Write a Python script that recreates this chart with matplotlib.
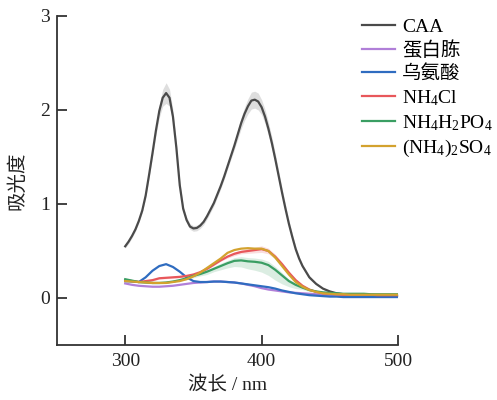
import numpy as np
import matplotlib
matplotlib.use("Agg")
import matplotlib.pyplot as plt

plt.rcParams['font.family'] = ['Liberation Serif', 'Noto Sans CJK SC']
plt.rcParams['mathtext.fontset'] = 'custom'
plt.rcParams['mathtext.rm'] = 'Liberation Serif'
plt.rcParams['mathtext.it'] = 'Liberation Serif:italic'

# wavelength grid (nm)
wl = list(range(300, 505, 5))

# CAA read at a finer step because its peaks are sharp
wl_caa = [300, 302.5, 305, 307.5, 310, 312.5, 315, 317.5, 320, 322.5, 325, 327.5, 330,
          332.5, 335, 337.5, 340, 342.5, 345, 347.5, 350, 352.5, 355, 357.5, 360, 362.5,
          365, 367.5, 370, 372.5, 375, 377.5, 380, 382.5, 385, 387.5, 390, 392.5, 395,
          397.5, 400, 402.5, 405, 407.5, 410, 412.5, 415, 417.5, 420, 422.5, 425, 427.5,
          430, 435, 440, 445, 450, 455, 460, 465, 470, 475, 480, 485, 490, 495, 500]
caa = [0.55, 0.60, 0.66, 0.73, 0.82, 0.93, 1.09, 1.31, 1.54, 1.78, 1.99, 2.13, 2.18,
       2.13, 1.93, 1.60, 1.20, 0.95, 0.83, 0.76, 0.74, 0.745, 0.77, 0.81, 0.87, 0.94,
       1.01, 1.10, 1.19, 1.29, 1.40, 1.51, 1.62, 1.74, 1.86, 1.96, 2.04, 2.10, 2.11,
       2.09, 2.03, 1.93, 1.80, 1.65, 1.48, 1.30, 1.12, 0.95, 0.79, 0.65, 0.52, 0.42,
       0.34, 0.22, 0.15, 0.10, 0.07, 0.05, 0.04, 0.035, 0.03, 0.03, 0.025, 0.025, 0.025,
       0.025, 0.025]
caa_sd = [0.02, 0.02, 0.02, 0.02, 0.02, 0.02, 0.03, 0.03, 0.04, 0.05, 0.07, 0.09, 0.11,
          0.09, 0.07, 0.05, 0.04, 0.03, 0.03, 0.03, 0.03, 0.03, 0.03, 0.03, 0.03, 0.03,
          0.03, 0.03, 0.03, 0.03, 0.03, 0.035, 0.04, 0.05, 0.06, 0.07, 0.08, 0.09, 0.09,
          0.09, 0.08, 0.075, 0.07, 0.065, 0.06, 0.055, 0.05, 0.045, 0.04, 0.035, 0.03, 0.025,
          0.02, 0.02, 0.01, 0.01, 0.01, 0.01, 0.01, 0.01, 0.01, 0.01, 0.01, 0.01, 0.01,
          0.01, 0.01]

peptone = [0.155, 0.14, 0.13, 0.125, 0.12, 0.12, 0.125, 0.13, 0.14, 0.15, 0.16, 0.165, 0.17,
           0.175, 0.175, 0.17, 0.165, 0.155, 0.14, 0.125, 0.105, 0.09, 0.08, 0.07, 0.06, 0.055,
           0.05, 0.045, 0.04, 0.035, 0.03, 0.025, 0.025, 0.02, 0.02, 0.02, 0.02, 0.02, 0.02,
           0.02, 0.02]

ornithine = [0.18, 0.175, 0.17, 0.22, 0.29, 0.34, 0.36, 0.33, 0.28, 0.22, 0.18, 0.17, 0.17,
             0.175, 0.175, 0.17, 0.165, 0.155, 0.145, 0.135, 0.125, 0.115, 0.10, 0.08, 0.065,
             0.05, 0.04, 0.03, 0.025, 0.02, 0.015, 0.015, 0.01, 0.01, 0.01, 0.01, 0.01, 0.01,
             0.01, 0.01, 0.01]

nh4cl = [0.19, 0.18, 0.17, 0.18, 0.19, 0.21, 0.215, 0.22, 0.225, 0.235, 0.25, 0.275, 0.31,
         0.355, 0.40, 0.44, 0.47, 0.49, 0.50, 0.51, 0.52, 0.50, 0.44, 0.36, 0.27, 0.19, 0.13,
         0.09, 0.065, 0.05, 0.045, 0.04, 0.035, 0.035, 0.035, 0.035, 0.035, 0.03, 0.03, 0.03,
         0.03]
nh4cl_sd = [0.01, 0.01, 0.01, 0.01, 0.01, 0.01, 0.01, 0.01, 0.01, 0.01, 0.01, 0.01, 0.01,
            0.01, 0.01, 0.015, 0.02, 0.02, 0.025, 0.03, 0.035, 0.03, 0.025, 0.02, 0.015, 0.01,
            0.01, 0.01, 0.01, 0.01, 0.01, 0.01, 0.01, 0.01, 0.01, 0.01, 0.01, 0.01, 0.01, 0.01,
            0.01]

nh4h2po4 = [0.20, 0.185, 0.17, 0.165, 0.16, 0.16, 0.165, 0.175, 0.19, 0.21, 0.235, 0.255,
            0.28, 0.31, 0.34, 0.37, 0.395, 0.40, 0.39, 0.385, 0.375, 0.35, 0.30, 0.24, 0.18,
            0.14, 0.11, 0.085, 0.07, 0.06, 0.055, 0.05, 0.045, 0.045, 0.045, 0.045, 0.04, 0.04,
            0.04, 0.04, 0.04]
nh4h2po4_lo = [0.01, 0.01, 0.01, 0.01, 0.01, 0.01, 0.01, 0.01, 0.01, 0.015, 0.02, 0.02, 0.03,
               0.03, 0.04, 0.05, 0.06, 0.07, 0.08, 0.09, 0.10, 0.11, 0.11, 0.09, 0.06, 0.04,
               0.02, 0.015, 0.01, 0.01, 0.01, 0.01, 0.01, 0.01, 0.01, 0.01, 0.01, 0.01, 0.01,
               0.01, 0.01]
nh4h2po4_hi = [0.01, 0.01, 0.01, 0.01, 0.01, 0.01, 0.01, 0.01, 0.01, 0.01, 0.015, 0.02, 0.02,
               0.025, 0.03, 0.03, 0.035, 0.04, 0.04, 0.04, 0.04, 0.04, 0.035, 0.03, 0.02, 0.015,
               0.01, 0.01, 0.01, 0.01, 0.01, 0.01, 0.01, 0.01, 0.01, 0.01, 0.01, 0.01, 0.01,
               0.01, 0.01]

nh42so4 = [0.18, 0.175, 0.17, 0.165, 0.16, 0.16, 0.16, 0.17, 0.18, 0.20, 0.23, 0.27, 0.32,
           0.37, 0.42, 0.48, 0.51, 0.525, 0.53, 0.525, 0.525, 0.50, 0.43, 0.34, 0.25, 0.17,
           0.12, 0.085, 0.065, 0.05, 0.045, 0.04, 0.04, 0.035, 0.035, 0.035, 0.035, 0.035,
           0.035, 0.035, 0.035]

labels = ['CAA', '蛋白胨', '乌氨酸', r'NH$_4$Cl', r'NH$_4$H$_2$PO$_4$', r'(NH$_4$)$_2$SO$_4$']
colors = ['#4a4a4a', '#b07fd8', '#2f6cc0', '#e8575b', '#3a9e63', '#d3a22e']

fig = plt.figure(figsize=(4.97, 4.0), dpi=100)
ax = fig.add_axes([57/497, 55/400, 341/497, 329/400])

c = np.array(caa)
s = np.array(caa_sd)
ax.fill_between(wl_caa, c - s, c + s, color='#c8c8c8', alpha=0.6, lw=0)
ax.plot(wl_caa, caa, color=colors[0], lw=1.6, label=labels[0])

ax.plot(wl, peptone, color=colors[1], lw=1.6, label=labels[1])
ax.plot(wl, ornithine, color=colors[2], lw=1.6, label=labels[2])

r = np.array(nh4cl)
rs = np.array(nh4cl_sd)
ax.fill_between(wl, r - rs, r + rs, color=colors[3], alpha=0.2, lw=0)
ax.plot(wl, nh4cl, color=colors[3], lw=1.6, label=labels[3])

g = np.array(nh4h2po4)
ax.fill_between(wl, g - np.array(nh4h2po4_lo), g + np.array(nh4h2po4_hi),
                color=colors[4], alpha=0.18, lw=0)
ax.plot(wl, nh4h2po4, color=colors[4], lw=1.6, label=labels[4])

ax.plot(wl, nh42so4, color=colors[5], lw=1.6, label=labels[5])

ax.set_xlim(250, 500)
ax.set_ylim(-0.5, 3)
ax.set_xticks([300, 400, 500])
ax.set_yticks([0, 1, 2, 3])
for side in ['top', 'right']:
    ax.spines[side].set_visible(False)
for side in ['left', 'bottom']:
    ax.spines[side].set_color('#333333')
    ax.spines[side].set_linewidth(1.3)
ax.tick_params(direction='in', length=7, width=1.3, color='#333333',
               labelsize=14, labelcolor='#222222')
ax.tick_params(axis='x', pad=6)
ax.tick_params(axis='y', pad=5)

ax.set_xlabel('波长 / nm', fontsize=14, color='#222222', labelpad=4)
ax.set_ylabel('吸光度', fontsize=14, color='#222222', labelpad=10)

fig.legend(loc='upper left', bbox_to_anchor=(362/497, 1 - 18/400), frameon=False,
           fontsize=14, handlelength=1.7, handletextpad=0.35, labelspacing=0.27,
           borderaxespad=0, borderpad=0)

fig.savefig('out.png', dpi=100)
